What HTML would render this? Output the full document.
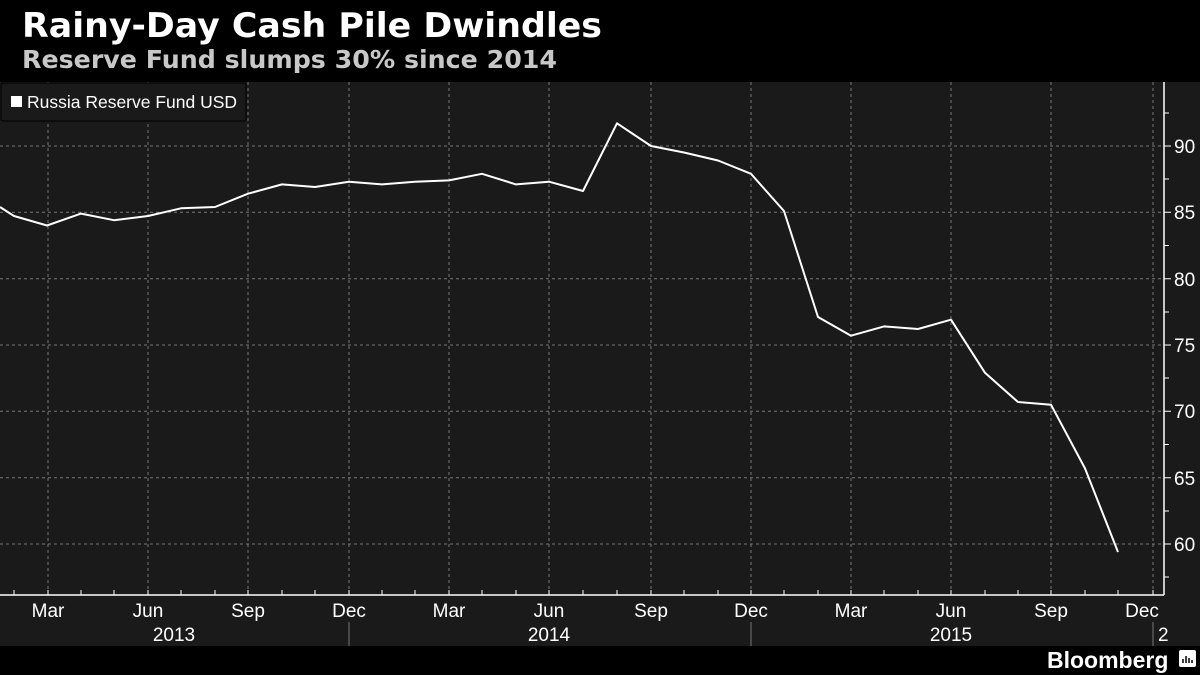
<!DOCTYPE html>
<html><head><meta charset="utf-8"><style>
html,body{margin:0;padding:0;background:#000;}
svg{display:block;font-family:"Liberation Sans","DejaVu Sans",sans-serif;}
</style></head><body>
<svg width="1200" height="675" viewBox="0 0 1200 675">
<rect width="1200" height="675" fill="#000"/>
<text x="22" y="37" fill="#fff" font-size="34" font-weight="bold" font-family="DejaVu Sans, sans-serif" textLength="580" lengthAdjust="spacingAndGlyphs">Rainy-Day Cash Pile Dwindles</text>
<text x="22" y="68" fill="#c8c8c8" font-size="25" font-weight="bold" font-family="DejaVu Sans, sans-serif" textLength="535" lengthAdjust="spacingAndGlyphs">Reserve Fund slumps 30% since 2014</text>
<rect x="0" y="82" width="1200" height="564" fill="#1a1a1a"/>
<g stroke="#777" stroke-width="1" stroke-dasharray="3,3">
<line x1="48" y1="82" x2="48" y2="595"/><line x1="148" y1="82" x2="148" y2="595"/><line x1="248" y1="82" x2="248" y2="595"/>
<line x1="349" y1="82" x2="349" y2="595"/><line x1="449" y1="82" x2="449" y2="595"/><line x1="549" y1="82" x2="549" y2="595"/>
<line x1="651" y1="82" x2="651" y2="595"/><line x1="751" y1="82" x2="751" y2="595"/><line x1="851" y1="82" x2="851" y2="595"/>
<line x1="951" y1="82" x2="951" y2="595"/><line x1="1051" y1="82" x2="1051" y2="595"/><line x1="1153" y1="82" x2="1153" y2="595"/>
<line x1="0" y1="146" x2="1163" y2="146"/><line x1="0" y1="212.3" x2="1163" y2="212.3"/><line x1="0" y1="278.7" x2="1163" y2="278.7"/>
<line x1="0" y1="345" x2="1163" y2="345"/><line x1="0" y1="411.3" x2="1163" y2="411.3"/><line x1="0" y1="477.7" x2="1163" y2="477.7"/>
<line x1="0" y1="544" x2="1163" y2="544"/>
</g>
<g stroke="#fff" stroke-width="1.5" fill="none">
<line x1="1164" y1="82" x2="1164" y2="595"/><line x1="0" y1="595" x2="1164" y2="595"/>
</g>
<g stroke="#fff" stroke-width="1">
<path d="M1164 113h5M1164 146h7M1164 179h5M1164 212.3h7M1164 245.5h5M1164 278.7h7M1164 312h5M1164 345h7M1164 378h5M1164 411.3h7M1164 444.5h5M1164 477.7h7M1164 511h5M1164 544h7M1164 577h5"/>
<path d="M14 595v-5M48 595v-5M81 595v-5M114 595v-5M148 595v-5M181 595v-5M215 595v-5M248 595v-5M282 595v-5M315 595v-5M349 595v-5M382 595v-5M415 595v-5M449 595v-5M482 595v-5M516 595v-5M549 595v-5M583 595v-5M617 595v-5M651 595v-5M684 595v-5M718 595v-5M751 595v-5M784 595v-5M818 595v-5M851 595v-5M884 595v-5M918 595v-5M951 595v-5M985 595v-5M1018 595v-5M1051 595v-5M1085 595v-5M1118 595v-5M1153 595v-5"/>
</g>
<g fill="#fff" font-size="19">
<text x="1174" y="153">90</text><text x="1174" y="219">85</text><text x="1174" y="286">80</text><text x="1174" y="352">75</text>
<text x="1174" y="418">70</text><text x="1174" y="485">65</text><text x="1174" y="551">60</text>
</g>
<g fill="#fff" font-size="19" text-anchor="middle">
<text x="48" y="617">Mar</text><text x="148" y="617">Jun</text><text x="248" y="617">Sep</text><text x="349" y="617">Dec</text>
<text x="449" y="617">Mar</text><text x="549" y="617">Jun</text><text x="651" y="617">Sep</text><text x="751" y="617">Dec</text>
<text x="851" y="617">Mar</text><text x="951" y="617">Jun</text><text x="1051" y="617">Sep</text><text x="1142" y="617">Dec</text>
<text x="174" y="641">2013</text><text x="549" y="641">2014</text><text x="951" y="641">2015</text>
</g>
<text x="1158" y="641" fill="#fff" font-size="19">2</text>
<g stroke="#777" stroke-width="1"><line x1="349" y1="622" x2="349" y2="646"/><line x1="751" y1="622" x2="751" y2="646"/><line x1="1153" y1="622" x2="1153" y2="646"/></g>
<polyline fill="none" stroke="#fff" stroke-width="2" stroke-linejoin="round" points="0,207 14,216 47,225.5 81,213.6 114,220.2 148,216 181,208.3 215,207 248,193.7 282,184.4 315,187 349,181.7 382,184.4 415,181.7 449,180.4 482,173.8 516,184.4 549,181.7 583,191 617,123.3 651,146 684,152.5 718,160.5 751,173.8 784,211 818,317 851,335.7 884,326.4 918,329 951,319.7 985,372.8 1018,402 1051,404.7 1085,468.4 1118,552"/>
<rect x="1" y="83" width="245" height="38" rx="2" fill="#1a1a1a" stroke="#000" stroke-width="1"/>
<rect x="11" y="96" width="11" height="11" fill="#fff"/>
<text x="27" y="108" fill="#fff" font-size="17.5" textLength="210" lengthAdjust="spacingAndGlyphs">Russia Reserve Fund USD</text>
<text x="1047" y="668" fill="#fff" font-size="23" font-weight="bold">Bloomberg</text>
<rect x="1179" y="650" width="17" height="17" rx="2" fill="#fff"/>
<path d="M1183 663v-4M1186 663v-7M1189 663v-5M1192 663v-3" stroke="#000" stroke-width="1.5"/>
</svg>
</body></html>
